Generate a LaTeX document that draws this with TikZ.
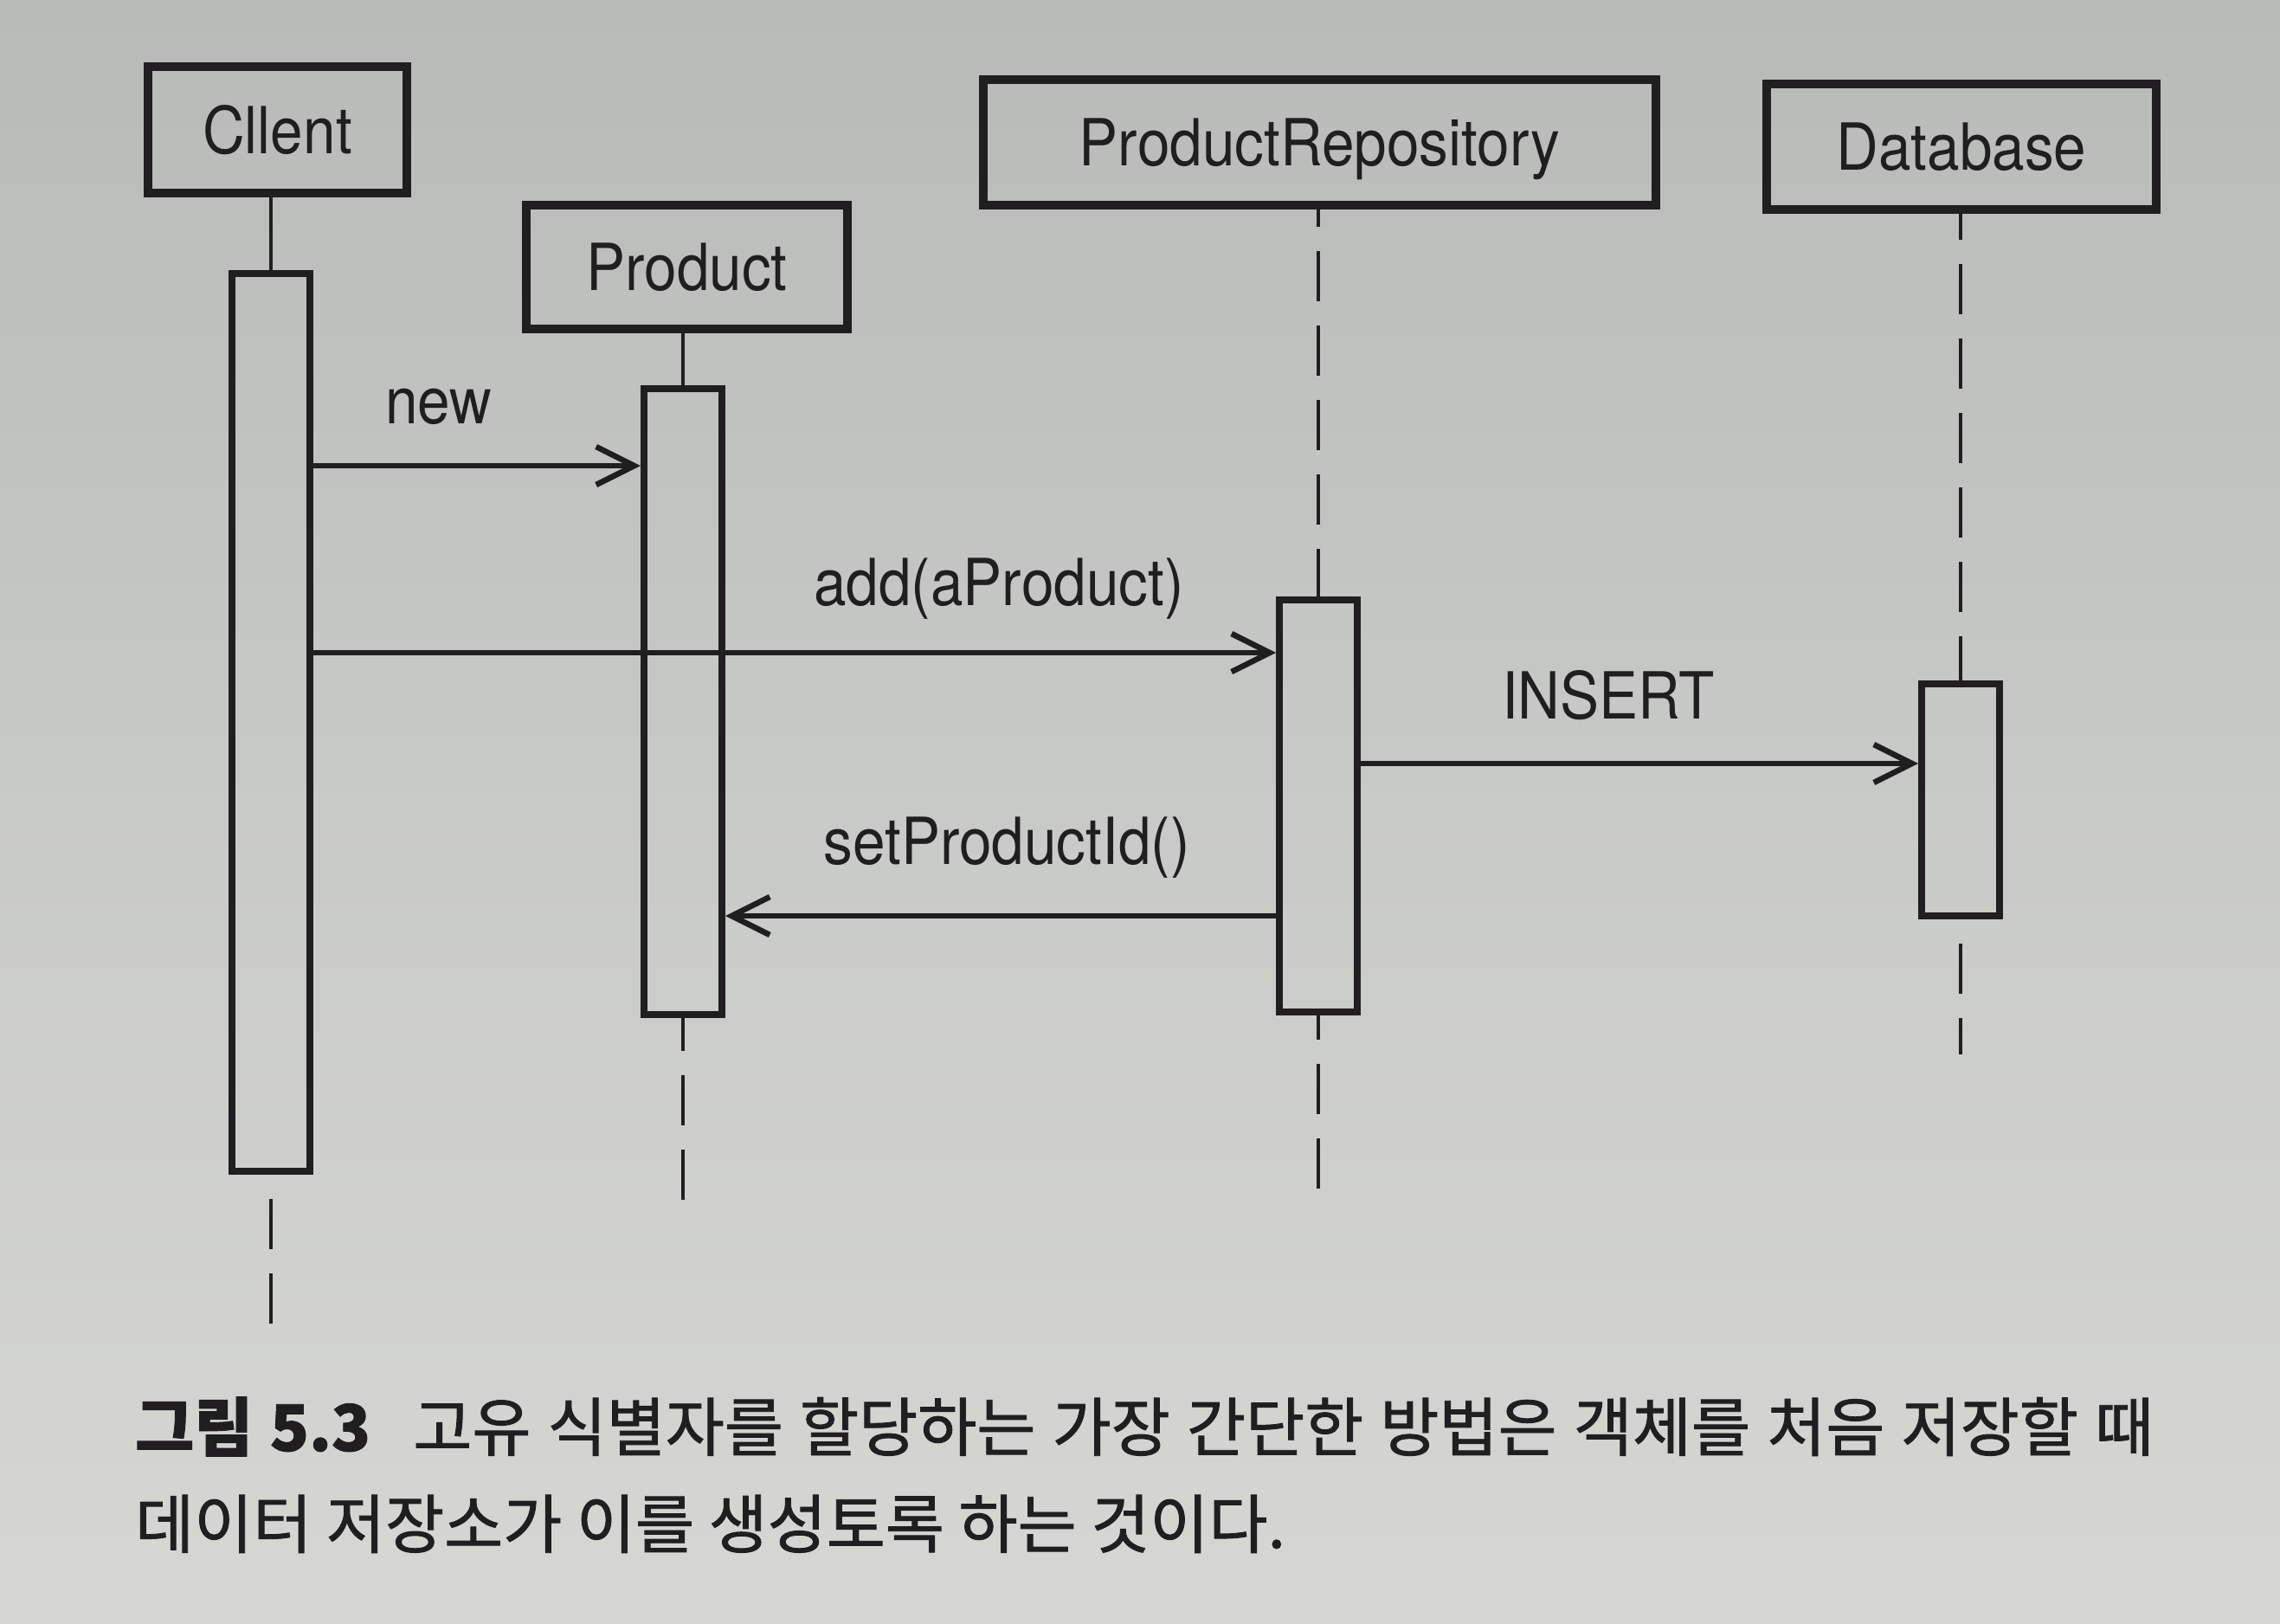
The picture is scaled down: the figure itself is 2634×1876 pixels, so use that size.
\documentclass[tikz,border=0pt]{standalone}
\usepackage{fontspec}
\setmainfont{TeX Gyre Heros}[FakeStretch=0.9]
\newfontfamily\krfont{Noto Sans CJK KR}[FakeBold=1.2]
\usetikzlibrary{arrows.meta,calc}
\definecolor{ink}{RGB}{32,30,32}
\definecolor{papertop}{RGB}{184,186,184}
\definecolor{papermid}{RGB}{200,202,199}
\definecolor{paperbot}{RGB}{214,215,211}
\begin{document}
\begin{tikzpicture}[x=1pt,y=-1pt,
  objbox/.style={draw=ink, line width=10pt, inner sep=0pt, text=ink,
    font=\fontsize{75}{90}\selectfont, text height=54pt, text depth=0pt},
  actbox/.style={draw=ink, line width=8pt, inner sep=0pt, minimum width=90pt},
  lbl/.style={inner sep=0pt, text=ink, font=\fontsize{75}{90}\selectfont},
  lifeline/.style={draw=ink, line width=4.5pt},
  lifedash/.style={lifeline, dash pattern=on 58pt off 28pt},
  msg/.style={draw=ink, line width=6.5pt,
    -{Straight Barb[length=44pt,width=44pt,line width=6.5pt]}},
  captxt/.style={inner sep=0pt, text=ink, anchor=base west,
    font=\krfont\fontsize{74}{88}\selectfont}]
% paper
\shade[top color=papertop, bottom color=paperbot, middle color=papermid]
  (0,0) rectangle (2634,1876);
\useasboundingbox (0,0) rectangle (2634,1876);

% object boxes
\node[objbox, minimum width=299pt, minimum height=146pt] (cbox) at (320.5,150) {Cllent};
\node[objbox, minimum width=371pt, minimum height=143pt] (pbox) at (793.5,308.5) {Product};
\node[objbox, minimum width=777pt, minimum height=145pt] (rbox) at (1524.5,164.5) {ProductRepository};
\node[objbox, minimum width=450pt, minimum height=145pt] (dbox) at (2266,169.5) {Database};

% activation bars
\node[actbox, minimum height=1037pt] (cact) at (313,834.5) {};
\node[actbox, minimum height=723pt] (pact) at (789,810.5) {};
\node[actbox, minimum height=476pt] (ract) at (1523,931) {};
\node[actbox, minimum height=268pt] (dact) at (2265,924) {};

% lifeline ends
\coordinate (cend) at (313,1537);
\coordinate (pend) at (789,1386);
\coordinate (rend) at (1523,1378);
\coordinate (dend) at (2265,1218);

% lifelines
\draw[lifeline] (cact.north |- cbox.south) -- (cact.north);
\draw[lifedash, dash phase=58pt] (cact.south) -- (cend);
\draw[lifeline] (pact.north |- pbox.south) -- (pact.north);
\draw[lifedash, dash phase=20pt] (pact.south) -- (pend);
\draw[lifedash, dash phase=38pt] (ract.north |- rbox.south) -- (ract.north);
\draw[lifedash, dash phase=30pt] (ract.south) -- (rend);
\draw[lifedash, dash phase=28pt] (dact.north |- dbox.south) -- (dact.north);
\draw[lifedash, dash phase=58pt] (dact.south) -- (dend);

% messages
\draw[msg] (cact.east |- 0,538) -- (pact.west |- 0,538);
\draw[msg] (cact.east |- 0,754) -- (ract.west |- 0,754);
\draw[msg] (ract.east |- 0,882) -- (dact.west |- 0,882);
\draw[msg] (ract.west |- 0,1058) -- (pact.east |- 0,1058);

% message labels
\node[lbl, anchor=base] (lnew) at (507,489) {new};
\node[lbl, anchor=base] (ladd) at (1154,699) {add(aProduct)};
\node[lbl, anchor=base] (lins) at (1858,830) {INSERT};
\node[lbl, anchor=base] (lset) at (1163,998) {setProductId()};

% caption
\node[captxt] (cap1) at (156,1676) {\makebox[2332pt][s]{\textbf{그림 5.3}\hspace{30pt} 고유 식별자를 할당하는 가장 간단한 방법은 객체를 처음 저장할 때}};
\node[captxt] (cap2) at (156,1788) {데이터 저장소가 이를 생성토록 하는 것이다.};
\end{tikzpicture}
\end{document}
